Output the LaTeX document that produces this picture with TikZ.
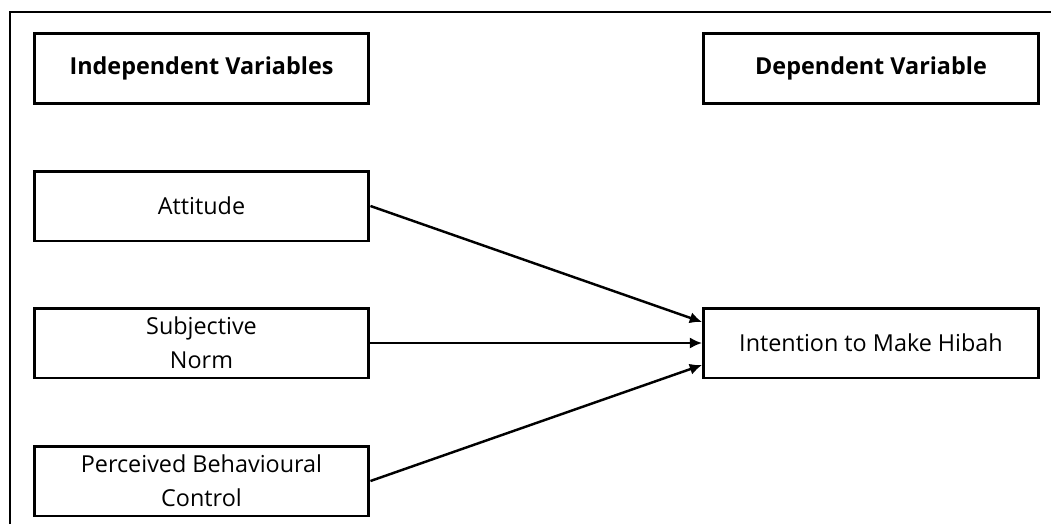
\documentclass[tikz,border=0pt]{standalone}
\usepackage{fontspec}
\setmainfont{Open Sans}
\usepackage{tikz}
\usetikzlibrary{calc, arrows, shapes, positioning}
\usetikzlibrary{arrows.meta}
\tikzset{>=latex}
\tikzset{varbox/.style = {draw, line width = 1.7pt, minimum width = 6.7cm, minimum height = 1.4cm, align = center, inner sep = 0pt, font = \fontsize{13.3}{19.4}\selectfont}}
\tikzset{link/.style = {line width = 1.4pt, -{Latex[length = 7pt, width = 6.5pt]}}}

\begin{document}
\begin{tikzpicture}[x = 0.02cm, y = -0.02cm]
\useasboundingbox (0, 0) rectangle (1051, 524);
\draw[line width = 0.9pt] (10, 524) -- (10, 12) -- (1051, 12);
\node[varbox] (indep) at (201.5, 68.5) {\bfseries Independent Variables};
\node[varbox] (dep) at (871, 68.5) {\bfseries Dependent Variable};
\node[varbox] (att) at (201.5, 206) {Attitude};
\node[varbox] (sn) at (201.5, 343) {Subjective\\Norm};
\node[varbox] (pbc) at (201.5, 481) {Perceived Behavioural\\Control};
\node[varbox] (intent) at (871, 343) {Intention to Make Hibah};
\draw[link] (att.east) -- ([yshift = 0.42cm]intent.west);
\draw[link] (sn.east) -- (intent.west);
\draw[link] (pbc.east) -- ([yshift = -0.44cm]intent.west);
\end{tikzpicture}
\end{document}
